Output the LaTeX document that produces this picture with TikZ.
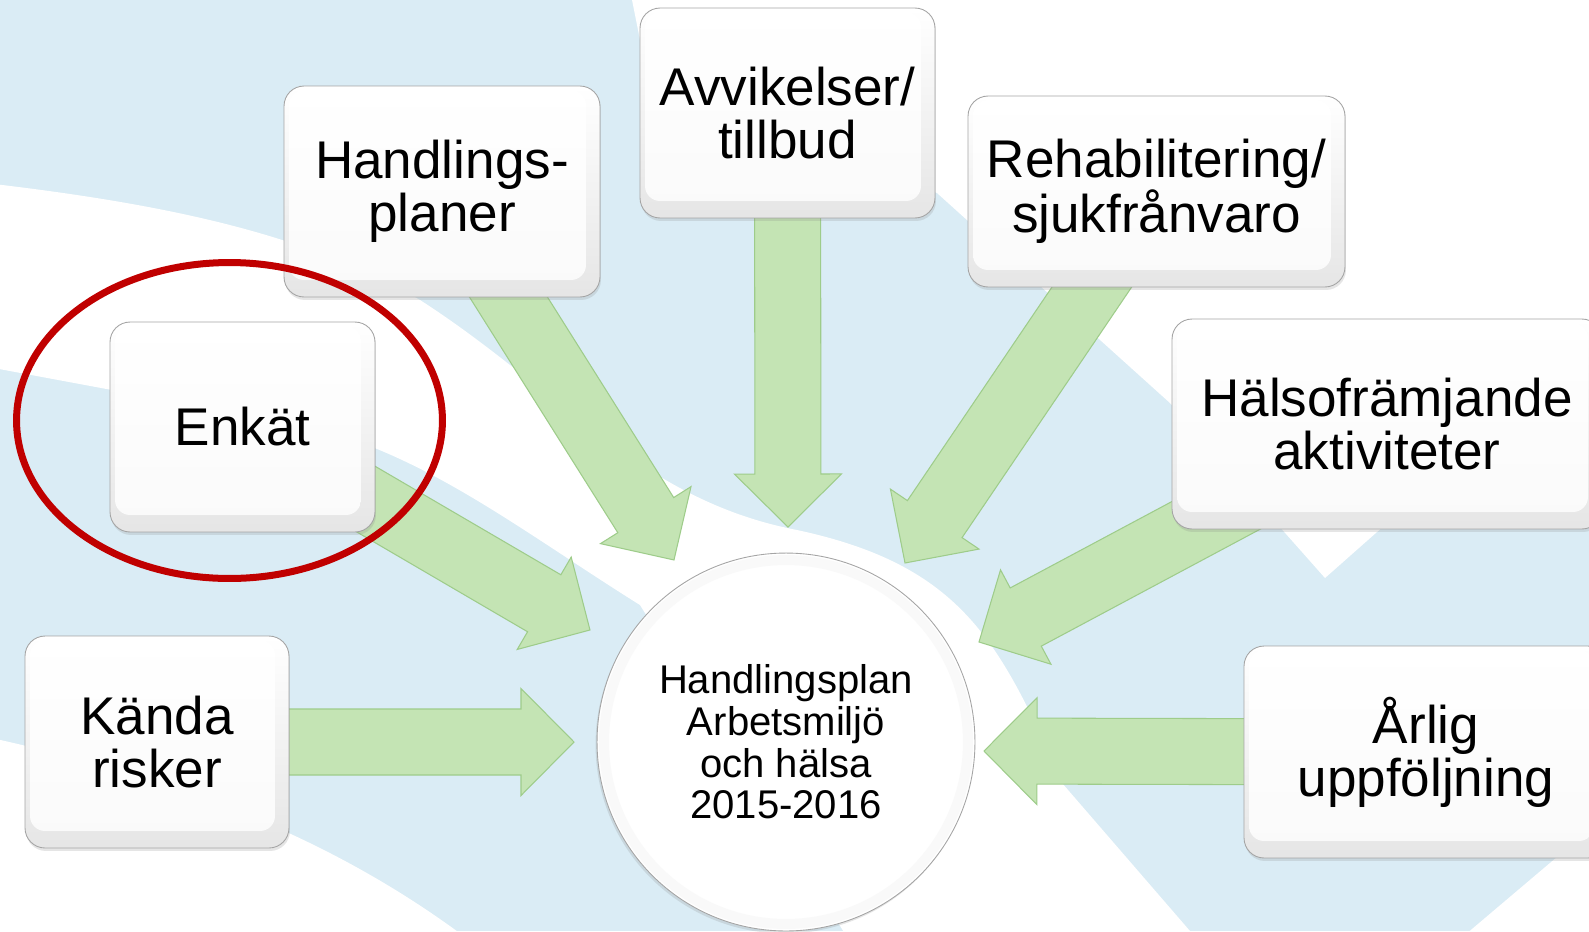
\documentclass[tikz,border=0pt]{standalone}
\usepackage{fontspec}
\setmainfont{Liberation Sans}
\usetikzlibrary{calc,shadows}

\definecolor{paleblue}{RGB}{218,236,245}
\definecolor{leafgreen}{RGB}{196,228,180}
\definecolor{leafedge}{RGB}{158,204,138}
\definecolor{ringred}{RGB}{192,0,0}
\definecolor{capedge}{RGB}{165,165,165}

\pgfdeclarelayer{backdrop}
\pgfdeclarelayer{arrows}
\pgfsetlayers{backdrop,arrows,main}

\newcommand{\blockarrow}[2]{%
  \path let \p1=($(#2)-(#1)$) in
    \pgfextra{\pgfmathsetmacro\arrowangle{atan2(\y1,\x1)}%
              \pgfmathsetmacro\arrowlength{veclen(\x1,\y1)}%
              \global\let\arrowangle\arrowangle
              \global\let\arrowlength\arrowlength};
  \filldraw[leafarrow, shift={(#1)}, rotate=\arrowangle]
    (0cm,0.66cm) -- ({\arrowlength pt-1.06cm},0.66cm) -- ({\arrowlength pt-1.06cm},1.07cm)
    -- ({\arrowlength pt},0cm) -- ({\arrowlength pt-1.06cm},-1.07cm)
    -- ({\arrowlength pt-1.06cm},-0.66cm) -- (0cm,-0.66cm) -- cycle;}

\begin{document}
\begin{tikzpicture}[
x=0.02cm, y=-0.02cm,
keycap/.style = {shape=rectangle, rounded corners=0.4cm, draw=capedge, line width=0.5pt,
    top color=white, bottom color=gray!20, inner sep=2pt, align=center,
    font=\fontsize{30.2pt}{30.2pt}\selectfont,
    drop shadow={shadow xshift=0.02cm, shadow yshift=-0.06cm, opacity=0.2},
    path picture={\shade[top color=white, bottom color=gray!4, rounded corners=0.3cm]
        ([shift={(0.1cm,-0.08cm)}]path picture bounding box.north west) rectangle
        ([shift={(-0.28cm,0.34cm)}]path picture bounding box.south east);}},
hub/.style = {shape=circle, draw=capedge, line width=0.5pt, fill=white,
    minimum size=7.56cm, inner sep=0pt, align=center,
    font=\fontsize{22.8pt}{23.7pt}\selectfont,
    drop shadow={shadow xshift=-0.03cm, shadow yshift=-0.05cm, opacity=0.2},
    path picture={\draw[gray!5, line width=0.2cm]
        (path picture bounding box.center) circle[radius=3.64cm];}},
leafarrow/.style = {fill=leafgreen, draw=leafedge, line width=0.6pt},
]
  \useasboundingbox (0,0) rectangle (1589,931);

  \node[keycap, minimum width=6.32cm, minimum height=4.22cm] (hand) at (442,191.5) {Handlings-\\planer};
  \node[keycap, minimum width=5.90cm, minimum height=4.20cm] (avvik) at (787.5,113) {Avvikelser/\\tillbud};
  \node[keycap, minimum width=7.54cm, minimum height=3.82cm] (rehab) at (1156.5,191.5) {Rehabilitering/\\sjukfrånvaro};
  \node[keycap, minimum width=8.60cm, minimum height=4.20cm] (halso) at (1387,424) {Hälsofrämjande\\aktiviteter};
  \node[keycap, minimum width=5.30cm, minimum height=4.20cm] (enkat) at (242.5,427) {Enkät};
  \node[keycap, minimum width=5.28cm, minimum height=4.24cm] (kanda) at (157,742) {Kända\\risker};
  \node[keycap, minimum width=7.28cm, minimum height=4.24cm] (arlig) at (1426,752) {Årlig\\uppföljning};
  \node[hub] (plan) at (786,742) {Handlingsplan\\Arbetsmiljö\\och hälsa\\2015-2016};

  \coordinate (handtip) at (674,560);
  \coordinate (avviktip) at (788,527);
  \coordinate (rehabtip) at (905,563);
  \coordinate (halsotip) at (979,642);
  \coordinate (enkattip) at (590,630);
  \coordinate (kandatip) at (574,742);
  \coordinate (arligtip) at (984,751);

  \begin{pgfonlayer}{backdrop}
    \fill[paleblue] (0,0) rectangle (1589,931);
    \fill[white] (620,-60) -- (650,90) -- (937,193) -- (1170,403) -- (1325,578)
        -- (1377,532) -- (1660,285) -- (1660,-60) -- cycle;
    \fill[white] (-60,178) .. controls (150,200) and (300,230) .. (420,300)
        .. controls (560,390) and (640,500) .. (797,530)
        .. controls (960,565) and (1000,640) .. (1062,783) -- (1241,990) -- (880,990)
        -- (640,605) .. controls (520,530) and (420,450) .. (300,425) -- (-60,358) -- cycle;
    \fill[white] (-60,727) .. controls (150,770) and (350,830) .. (530,990) -- (-60,990) -- cycle;
    \fill[white] (1400,990) -- (1557,857) -- (1660,770) -- (1660,990) -- cycle;
  \end{pgfonlayer}

  \begin{pgfonlayer}{arrows}
    \blockarrow{hand}{handtip}
    \blockarrow{avvik}{avviktip}
    \blockarrow{rehab}{rehabtip}
    \blockarrow{halso}{halsotip}
    \blockarrow{enkat}{enkattip}
    \blockarrow{kanda}{kandatip}
    \blockarrow{arlig}{arligtip}
  \end{pgfonlayer}

  \coordinate (ringmid) at (229.5,420.5);
  \draw[ringred, line width=0.14cm] (ringmid) ellipse [x radius=4.26cm, y radius=3.16cm];
\end{tikzpicture}
\end{document}
